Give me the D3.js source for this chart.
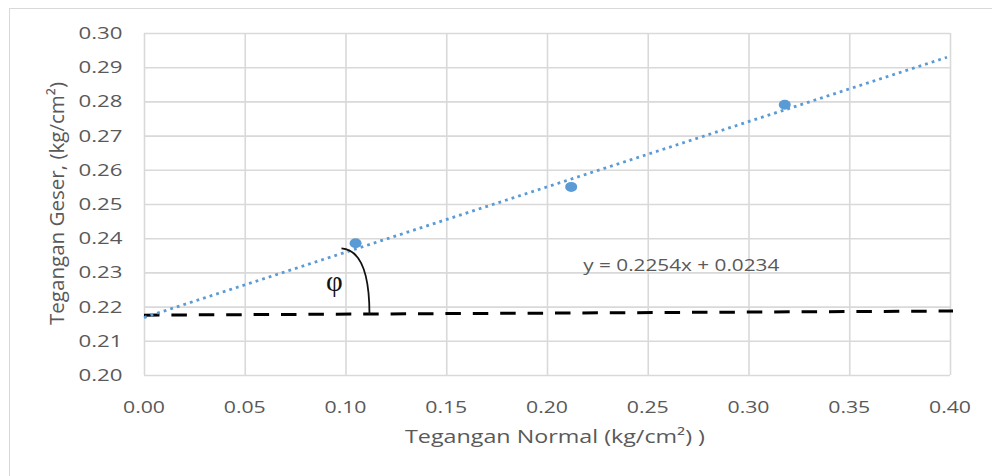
<!DOCTYPE html>
<html>
<head>
<meta charset="utf-8">
<script src="https://cdn.jsdelivr.net/npm/d3@7"></script>
<style>
  html, body { margin: 0; padding: 0; background: #fff; }
  svg { display: block; }
  text { font-family: "Open Sans", "Liberation Sans", sans-serif; fill: #595959; }
</style>
</head>
<body>
<svg id="chart" width="992" height="476"></svg>
<script>
// ---- data ----
const normalStress = [0.105, 0.212, 0.318];          // x (kg/cm²)
const shearStress  = [0.2385, 0.255, 0.279];         // y (kg/cm²)
const trendX = [0, 0.3985];                          // linear trendline ends
const trendY = [0.2168, 0.2929];
const refLineX = [0, 0.4015];                        // dashed reference line
const refLineY = [0.2175, 0.2187];
const arcX = [0.0980, 0.1119, 0.1119];               // angle arc: start, control, end
const arcY = [0.2370, 0.2364, 0.2177];
const phiPos = [0.0945, 0.2246];
const eqPos = [0.218, 0.2303];
const xTicks = [0, 0.05, 0.10, 0.15, 0.20, 0.25, 0.30, 0.35, 0.40];
const yTicks = [0.20, 0.21, 0.22, 0.23, 0.24, 0.25, 0.26, 0.27, 0.28, 0.29, 0.30];
const xTitle = "Tegangan Normal (kg/cm²) )";
const yTitle = "Tegangan Geser, (kg/cm²)";
const equationLabel = "y = 0.2254x + 0.0234";
const phiLabel = "φ";

// ---- layout ----
const svg = d3.select("#chart");
const plot = { left: 144, right: 950, top: 33, bottom: 375 };
const x = d3.scaleLinear().domain([0, 0.40]).range([plot.left, plot.right]);
const y = d3.scaleLinear().domain([0.20, 0.30]).range([plot.bottom, plot.top]);
const gridColor = "#d9d9d9";
const blue = "#5b9bd5";

// outer chart border
svg.append("rect").attr("x", 9.5).attr("y", 8.5).attr("width", 1100).attr("height", 600)
  .attr("fill", "none").attr("stroke", "#d9d9d9").attr("stroke-width", 1);

// grid lines via axes
const gx = svg.append("g").attr("transform", `translate(0,${plot.bottom})`)
  .call(d3.axisBottom(x).tickValues(xTicks).tickSize(-(plot.bottom - plot.top)).tickFormat(""));
const gy = svg.append("g").attr("transform", `translate(${plot.left},0)`)
  .call(d3.axisLeft(y).tickValues(yTicks).tickSize(-(plot.right - plot.left)).tickFormat(""));
[gx, gy].forEach(g => {
  g.select(".domain").remove();
  g.selectAll(".tick line").attr("stroke", gridColor).attr("stroke-width", 1.6);
});

// tick labels
svg.append("g").selectAll("text").data(xTicks).join("text")
  .attr("x", d => x(d)).attr("y", plot.bottom + 38)
  .attr("text-anchor", "middle").attr("font-size", 16)
  .attr("textLength", 42).attr("lengthAdjust", "spacingAndGlyphs")
  .text(d => d3.format(".2f")(d));
svg.append("g").selectAll("text").data(yTicks).join("text")
  .attr("x", 122.5).attr("y", d => y(d) + 6)
  .attr("text-anchor", "end").attr("font-size", 16)
  .attr("textLength", 44).attr("lengthAdjust", "spacingAndGlyphs")
  .text(d => d3.format(".2f")(d));

// axis titles
svg.append("text").attr("x", 405).attr("y", 443).attr("font-size", 18)
  .attr("textLength", 300).attr("lengthAdjust", "spacingAndGlyphs").text(xTitle);
svg.append("text").attr("transform", "translate(63.5,325) rotate(-90)")
  .attr("font-size", 20).attr("textLength", 243).attr("lengthAdjust", "spacingAndGlyphs")
  .text(yTitle);

// dashed reference line
svg.append("path")
  .attr("d", d3.line()(refLineX.map((v, i) => [x(v), y(refLineY[i])])))
  .attr("fill", "none").attr("stroke", "#000").attr("stroke-width", 3)
  .attr("stroke-dasharray", "15.5 11.9");

// trendline (dotted)
svg.append("path")
  .attr("d", d3.line()(trendX.map((v, i) => [x(v), y(trendY[i])])))
  .attr("fill", "none").attr("stroke", blue).attr("stroke-width", 2.8)
  .attr("stroke-dasharray", "2.8 4.1");

// angle arc
const p = d3.path();
p.moveTo(x(arcX[0]), y(arcY[0]));
p.quadraticCurveTo(x(arcX[1]), y(arcY[1]), x(arcX[2]), y(arcY[2]));
svg.append("path").attr("d", p.toString())
  .attr("fill", "none").attr("stroke", "#111").attr("stroke-width", 1.8);

// data points
svg.append("g").selectAll("ellipse").data(normalStress).join("ellipse")
  .attr("cx", d => x(d)).attr("cy", (d, i) => y(shearStress[i]))
  .attr("rx", 6).attr("ry", 5).attr("fill", blue);

// phi label
svg.append("text").attr("x", x(phiPos[0])).attr("y", y(phiPos[1]))
  .attr("text-anchor", "middle").attr("font-size", 29)
  .style("font-family", "'Liberation Serif', 'DejaVu Serif', serif").style("fill", "#111")
  .text(phiLabel);

// equation label
svg.append("text").attr("x", x(eqPos[0])).attr("y", y(eqPos[1]))
  .attr("font-size", 16).attr("textLength", 196).attr("lengthAdjust", "spacingAndGlyphs")
  .text(equationLabel);
</script>
</body>
</html>
